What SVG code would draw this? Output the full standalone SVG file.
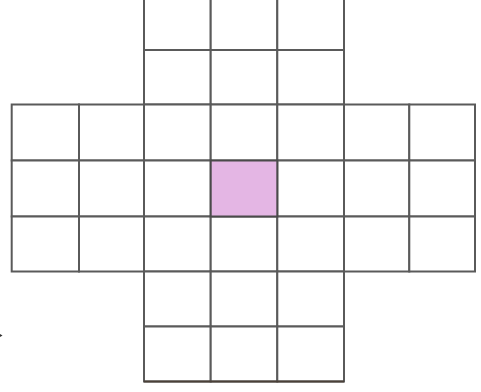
<svg xmlns="http://www.w3.org/2000/svg" width="481" height="392" viewBox="0 0 481 392">
<style>
.c{fill:#ffffff;stroke:#5a5a5a;stroke-width:2}
.p{fill:#e4b6e4;stroke:#4a4a4a;stroke-width:2}
</style>
<rect width="481" height="392" fill="#ffffff"/>
<g id="top">
<rect class="c" x="144" y="-10" width="66.7" height="60"/>
<rect class="c" x="210.7" y="-10" width="66.6" height="60"/>
<rect class="c" x="277.3" y="-10" width="66.7" height="60"/>
<rect class="c" x="144" y="50" width="66.7" height="54.5"/>
<rect class="c" x="210.7" y="50" width="66.6" height="54.5"/>
<rect class="c" x="277.3" y="50" width="66.7" height="54.5"/>
</g>
<g id="middle">
<rect class="c" x="11.7" y="104.5" width="67.3" height="56"/>
<rect class="c" x="79" y="104.5" width="65" height="56"/>
<rect class="c" x="144" y="104.5" width="66.7" height="56"/>
<rect class="c" x="210.7" y="104.5" width="66.6" height="56"/>
<rect class="c" x="277.3" y="104.5" width="66.7" height="56"/>
<rect class="c" x="344" y="104.5" width="65.3" height="56"/>
<rect class="c" x="409.3" y="104.5" width="65.7" height="56"/>
<rect class="c" x="11.7" y="160.5" width="67.3" height="56"/>
<rect class="c" x="79" y="160.5" width="65" height="56"/>
<rect class="c" x="144" y="160.5" width="66.7" height="56"/>
<rect class="c" x="277.3" y="160.5" width="66.7" height="56"/>
<rect class="c" x="344" y="160.5" width="65.3" height="56"/>
<rect class="c" x="409.3" y="160.5" width="65.7" height="56"/>
<rect class="c" x="11.7" y="216.5" width="67.3" height="55"/>
<rect class="c" x="79" y="216.5" width="65" height="55"/>
<rect class="c" x="144" y="216.5" width="66.7" height="55"/>
<rect class="c" x="210.7" y="216.5" width="66.6" height="55"/>
<rect class="c" x="277.3" y="216.5" width="66.7" height="55"/>
<rect class="c" x="344" y="216.5" width="65.3" height="55"/>
<rect class="c" x="409.3" y="216.5" width="65.7" height="55"/>
</g>
<g id="center">
<rect class="p" x="210.7" y="160.5" width="66.6" height="56"/>
</g>
<g id="bottom">
<rect class="c" x="144" y="271.5" width="66.7" height="55"/>
<rect class="c" x="210.7" y="271.5" width="66.6" height="55"/>
<rect class="c" x="277.3" y="271.5" width="66.7" height="55"/>
<rect class="c" x="144" y="326.5" width="66.7" height="55"/>
<rect class="c" x="210.7" y="326.5" width="66.6" height="55"/>
<rect class="c" x="277.3" y="326.5" width="66.7" height="55"/>
<line x1="144" y1="381.5" x2="344" y2="381.5" stroke="#4a4038" stroke-width="2"/>
</g>
<g id="connectors"></g>
<path d="M0 334 L2.5 335.5 L0 337 Z" fill="#333333"/>
</svg>
